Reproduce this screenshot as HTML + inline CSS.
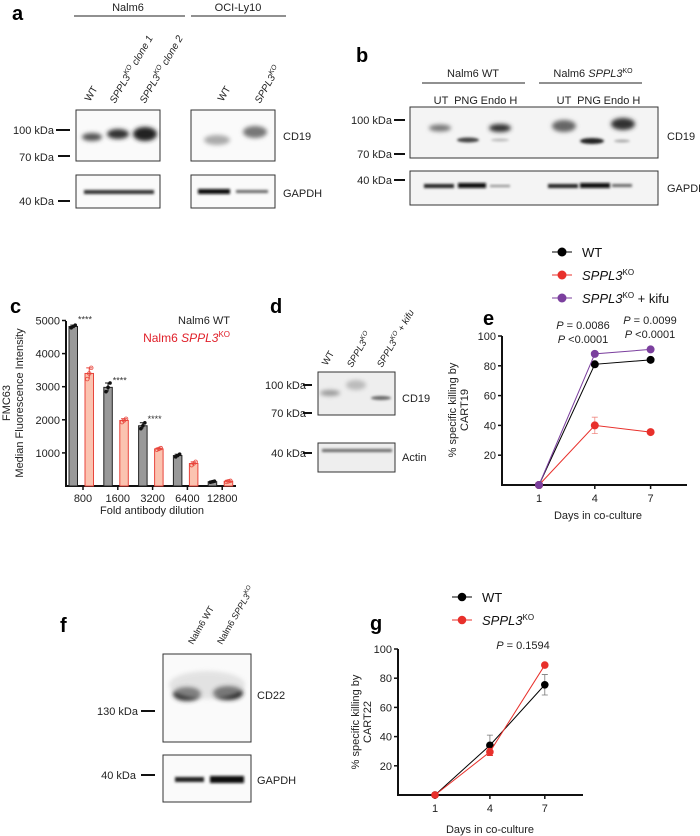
<!DOCTYPE html>
<html><head><meta charset="utf-8">
<style>
body{margin:0;background:#fff;}
svg{display:block;font-family:"Liberation Sans",sans-serif;}
.pl{font-weight:bold;font-size:20px;}
.t{font-size:11px;fill:#222;}
.tk{font-size:11px;fill:#222;}
</style></head>
<body>
<svg id="fig" width="700" height="836" viewBox="0 0 700 836">
<defs>
<filter id="bl" x="-50%" y="-100%" width="200%" height="300%"><feGaussianBlur stdDeviation="2"/></filter>
<filter id="bl2" x="-50%" y="-100%" width="200%" height="300%"><feGaussianBlur stdDeviation="1.2"/></filter>
</defs>

<!-- Panel a -->
<g>
<text class="pl" x="12" y="20">a</text>
<text class="t" x="128" y="11" text-anchor="middle" font-size="12">Nalm6</text>
<line x1="74" y1="16" x2="185" y2="16" stroke="#222"/>
<text class="t" x="238" y="11" text-anchor="middle" font-size="12">OCI-Ly10</text>
<line x1="191" y1="16" x2="286" y2="16" stroke="#222"/>
<g font-size="10" font-style="italic" fill="#222">
<text transform="translate(90,102) rotate(-60)" font-style="normal">WT</text>
<text transform="translate(115,104) rotate(-60)">SPPL3<tspan font-size="7" dy="-4">KO</tspan><tspan dy="4"> clone 1</tspan></text>
<text transform="translate(145,104) rotate(-60)">SPPL3<tspan font-size="7" dy="-4">KO</tspan><tspan dy="4"> clone 2</tspan></text>
<text transform="translate(223,102) rotate(-60)" font-style="normal">WT</text>
<text transform="translate(260,104) rotate(-60)">SPPL3<tspan font-size="7" dy="-4">KO</tspan></text>
</g>
<rect x="76" y="110" width="84" height="51" fill="#fafafa" stroke="#333"/>
<ellipse cx="92" cy="137" rx="10" ry="4" fill="#555" filter="url(#bl)"/>
<ellipse cx="118" cy="134" rx="11" ry="5" fill="#333" filter="url(#bl)"/>
<ellipse cx="145" cy="134" rx="12" ry="7" fill="#222" filter="url(#bl)"/>
<rect x="191" y="110" width="84" height="51" fill="#fafafa" stroke="#333"/>
<ellipse cx="217" cy="140" rx="13" ry="5" fill="#aaa" filter="url(#bl)"/>
<ellipse cx="255" cy="132" rx="12" ry="6" fill="#777" filter="url(#bl)"/>
<rect x="76" y="175" width="84" height="33" fill="#fafafa" stroke="#333"/>
<rect x="84" y="190" width="70" height="4" fill="#333" filter="url(#bl2)"/>
<rect x="191" y="175" width="84" height="33" fill="#fafafa" stroke="#333"/>
<rect x="198" y="189" width="32" height="5" fill="#111" filter="url(#bl2)"/>
<rect x="236" y="190" width="32" height="3" fill="#666" filter="url(#bl2)"/>
<g class="t"><text x="54" y="134" text-anchor="end">100 kDa</text><text x="54" y="161" text-anchor="end">70 kDa</text><text x="54" y="205" text-anchor="end">40 kDa</text></g>
<g stroke="#111" stroke-width="2"><line x1="56" y1="130" x2="70" y2="130"/><line x1="58" y1="156" x2="70" y2="156"/><line x1="58" y1="201" x2="70" y2="201"/></g>
<text class="t" x="283" y="140" font-size="12">CD19</text>
<text class="t" x="283" y="197" font-size="12">GAPDH</text>
</g>

<!-- Panel b -->
<g>
<text class="pl" x="356" y="62">b</text>
<text class="t" x="473" y="77" text-anchor="middle">Nalm6 WT</text>
<line x1="422" y1="83" x2="525" y2="83" stroke="#222"/>
<text class="t" x="593" y="77" text-anchor="middle">Nalm6 <tspan font-style="italic">SPPL3</tspan><tspan font-size="7" dy="-4">KO</tspan></text>
<line x1="539" y1="83" x2="642" y2="83" stroke="#222"/>
<g class="t" font-size="9" text-anchor="middle">
<text x="441" y="104">UT</text><text x="466" y="104">PNG</text><text x="499" y="104">Endo H</text>
<text x="564" y="104">UT</text><text x="589" y="104">PNG</text><text x="622" y="104">Endo H</text></g>
<rect x="410" y="107" width="248" height="51" fill="#f4f4f4" stroke="#333"/>
<ellipse cx="440" cy="128" rx="11" ry="3.5" fill="#777" filter="url(#bl)"/>
<ellipse cx="468" cy="140" rx="11" ry="2.5" fill="#444" filter="url(#bl2)"/>
<ellipse cx="500" cy="128" rx="11" ry="4" fill="#333" filter="url(#bl)"/>
<ellipse cx="500" cy="140" rx="9" ry="1.5" fill="#bbb" filter="url(#bl2)"/>
<ellipse cx="564" cy="126" rx="12" ry="6" fill="#666" filter="url(#bl)"/>
<ellipse cx="592" cy="141" rx="12" ry="3" fill="#222" filter="url(#bl2)"/>
<ellipse cx="623" cy="124" rx="12" ry="6" fill="#333" filter="url(#bl)"/>
<ellipse cx="622" cy="141" rx="8" ry="1.5" fill="#aaa" filter="url(#bl2)"/>
<rect x="410" y="171" width="248" height="34" fill="#f4f4f4" stroke="#333"/>
<rect x="424" y="184" width="30" height="4" fill="#222" filter="url(#bl2)"/>
<rect x="458" y="183" width="28" height="5" fill="#111" filter="url(#bl2)"/>
<rect x="490" y="185" width="20" height="2" fill="#888" filter="url(#bl2)"/>
<rect x="548" y="184" width="30" height="4" fill="#222" filter="url(#bl2)"/>
<rect x="580" y="183" width="30" height="5" fill="#111" filter="url(#bl2)"/>
<rect x="612" y="184" width="20" height="3" fill="#666" filter="url(#bl2)"/>
<g class="t"><text x="392" y="124" text-anchor="end">100 kDa</text><text x="392" y="158" text-anchor="end">70 kDa</text><text x="392" y="184" text-anchor="end">40 kDa</text></g>
<g stroke="#111" stroke-width="2"><line x1="394" y1="120" x2="405" y2="120"/><line x1="394" y1="154" x2="405" y2="154"/><line x1="394" y1="180" x2="405" y2="180"/></g>
<text class="t" x="667" y="140" font-size="12">CD19</text>
<text class="t" x="667" y="192" font-size="12">GAPDH</text>
</g>

<!-- Panel c -->
<g id="panel-c">
<text class="pl" x="10" y="313">c</text>
<text class="t" x="230" y="324" text-anchor="end" font-size="12">Nalm6 WT</text>
<text x="230" y="342" text-anchor="end" font-size="12" fill="#e0202a">Nalm6 <tspan font-style="italic">SPPL3</tspan><tspan font-size="8" dy="-5">KO</tspan></text>
<text class="t" transform="translate(10,403) rotate(-90)" text-anchor="middle">FMC63</text>
<text class="t" transform="translate(23,403) rotate(-90)" text-anchor="middle">Median Fluorescence Intensity</text>
<text class="t" x="152" y="514" text-anchor="middle">Fold antibody dilution</text>
</g>

<!-- Panel d -->
<g>
<text class="pl" x="270" y="313">d</text>
<g font-size="9.5" font-style="italic" fill="#222">
<text transform="translate(327,366) rotate(-60)" font-style="normal">WT</text>
<text transform="translate(352,368) rotate(-60)">SPPL3<tspan font-size="6.5" dy="-4">KO</tspan></text>
<text transform="translate(382,368) rotate(-60)">SPPL3<tspan font-size="6.5" dy="-4">KO</tspan><tspan dy="4"> + kifu</tspan></text>
</g>
<rect x="318" y="372" width="77" height="43" fill="#eee" stroke="#333"/>
<ellipse cx="330" cy="393" rx="10" ry="3" fill="#999" filter="url(#bl)"/>
<ellipse cx="356" cy="385" rx="10" ry="5" fill="#bbb" filter="url(#bl)"/>
<ellipse cx="381" cy="398" rx="10" ry="2" fill="#666" filter="url(#bl2)"/>
<rect x="318" y="443" width="77" height="29" fill="#eee" stroke="#333"/>
<rect x="322" y="449" width="70" height="3" fill="#666" filter="url(#bl2)"/>
<g class="t"><text x="306" y="389" text-anchor="end">100 kDa</text><text x="306" y="417" text-anchor="end">70 kDa</text><text x="306" y="457" text-anchor="end">40 kDa</text></g>
<g stroke="#111" stroke-width="2"><line x1="303" y1="385" x2="312" y2="385"/><line x1="303" y1="413" x2="312" y2="413"/><line x1="303" y1="453" x2="312" y2="453"/></g>
<text class="t" x="402" y="402" font-size="12">CD19</text>
<text class="t" x="402" y="461" font-size="12">Actin</text>
</g>

<!-- Panel e -->
<g id="panel-e">
<text class="pl" x="483" y="325">e</text>
<text class="t" x="583" y="329" text-anchor="middle" font-size="10"><tspan font-style="italic">P</tspan> = 0.0086</text>
<text class="t" x="583" y="343" text-anchor="middle" font-size="10"><tspan font-style="italic">P</tspan> &lt;0.0001</text>
<text class="t" x="650" y="324" text-anchor="middle" font-size="10"><tspan font-style="italic">P</tspan> = 0.0099</text>
<text class="t" x="650" y="338" text-anchor="middle" font-size="10"><tspan font-style="italic">P</tspan> &lt;0.0001</text>
<text class="t" transform="translate(456,410) rotate(-90)" text-anchor="middle" font-size="10">% specific killing by</text>
<text class="t" transform="translate(468,410) rotate(-90)" text-anchor="middle" font-size="10">CART19</text>
<text class="t" x="598" y="519" text-anchor="middle" font-size="10">Days in co-culture</text>
</g>

<!-- Panel f -->
<g>
<text class="pl" x="60" y="632">f</text>
<g font-size="9" fill="#222">
<text transform="translate(193,645) rotate(-60)">Nalm6 WT</text>
<text transform="translate(222,645) rotate(-60)">Nalm6 <tspan font-style="italic">SPPL3</tspan><tspan font-size="6" dy="-4">KO</tspan></text>
</g>
<rect x="163" y="654" width="88" height="88" fill="#fafafa" stroke="#333"/>
<ellipse cx="187" cy="694" rx="14" ry="7" fill="#333" filter="url(#bl)"/>
<ellipse cx="228" cy="693" rx="15" ry="7" fill="#222" filter="url(#bl)"/>
<ellipse cx="207" cy="685" rx="38" ry="14" fill="#ccc" opacity="0.5" filter="url(#bl)"/>
<rect x="163" y="755" width="88" height="47" fill="#fafafa" stroke="#333"/>
<rect x="175" y="777" width="29" height="5" fill="#222" filter="url(#bl2)"/>
<rect x="210" y="776" width="34" height="7" fill="#111" filter="url(#bl2)"/>
<g class="t"><text x="138" y="715" text-anchor="end">130 kDa</text><text x="136" y="779" text-anchor="end">40 kDa</text></g>
<g stroke="#111" stroke-width="2"><line x1="141" y1="711" x2="155" y2="711"/><line x1="141" y1="775" x2="155" y2="775"/></g>
<text class="t" x="257" y="699" font-size="12">CD22</text>
<text class="t" x="257" y="784" font-size="12">GAPDH</text>
</g>

<!-- Panel g -->
<g id="panel-g">
<text class="pl" x="370" y="630">g</text>
<text class="t" x="523" y="649" text-anchor="middle" font-size="10"><tspan font-style="italic">P</tspan> = 0.1594</text>
<text class="t" transform="translate(359,722) rotate(-90)" text-anchor="middle" font-size="9">% specific killing by</text>
<text class="t" transform="translate(371,722) rotate(-90)" text-anchor="middle" font-size="9">CART22</text>
<text class="t" x="490" y="833" text-anchor="middle" font-size="9">Days in co-culture</text>
</g>
</svg>
<script>
// Panel c data
const cCategories = ["800","1600","3200","6400","12800"];
const cWT = [4820, 2980, 1820, 920, 130];
const cKO = [3400, 1980, 1120, 680, 140];
const cErrWT = [40, 130, 90, 40, 15];
const cErrKO = [170, 50, 25, 50, 15];
const cStars = ["****","****","****","",""];
const cYTicks = [1000, 2000, 3000, 4000, 5000];
// Panel e data
const eDays = [1, 4, 7];
const eWT = [0, 81, 84];
const eKO = [0, 40, 35.5];
const eKifu = [0, 88, 91];
const eErrKO = [0, 5.5, 1.5];
const eErrKifu = [0, 1.5, 1.5];
const eYTicks = [20, 40, 60, 80, 100];
// Panel g data
const gDays = [1, 4, 7];
const gWT = [0, 34, 75.5];
const gKO = [0, 29.5, 89];
const gErrWT = [0, 7, 7];
const gErrKO = [0, 2.5, 1];
const gYTicks = [20, 40, 60, 80, 100];

const NS = "http://www.w3.org/2000/svg";
function mk(parent, tag, attrs, text){
  const e = document.createElementNS(NS, tag);
  for (const k in attrs) e.setAttribute(k, attrs[k]);
  if (text !== undefined) e.textContent = text;
  parent.appendChild(e);
  return e;
}

// ---- Panel c
(function(){
  const g = document.getElementById('panel-c');
  const y = v => 486 - v * 0.0331;
  const xc = i => 83 + i * 34.8;
  const bw = 8.5;
  const ax = mk(g, 'path', {d:'M66 321 V486 H236', stroke:'#111', 'stroke-width':2, fill:'none'});
  
  
  cYTicks.forEach(t => {
    mk(g, 'line', {x1:62, x2:66, y1:y(t), y2:y(t), stroke:'#111', 'stroke-width':1.5});
    const lb = mk(g, 'text', {x:60, y:y(t)+4, 'text-anchor':'end', class:'tk'}, t);
    
    
  });
  cCategories.forEach((c, i) => {
    const x = xc(i);
    mk(g, 'line', {x1:x, x2:x, y1:486, y2:490, stroke:'#111', 'stroke-width':1.5});
    const lb = mk(g, 'text', {x:x, y:502, 'text-anchor':'middle', class:'tk'}, c);
    
    
    const b1 = mk(g, 'rect', {x:x-14, y:y(cWT[i]), width:bw, height:486-y(cWT[i]), fill:'#999', stroke:'#222', 'stroke-width':1});
    
    
    const b2 = mk(g, 'rect', {x:x+2, y:y(cKO[i]), width:bw, height:486-y(cKO[i]), fill:'#fbc3b0', stroke:'#e8453c', 'stroke-width':1});
    
    
    const cx1 = x-14+bw/2, cx2 = x+2+bw/2;
    mk(g, 'path', {d:`M${cx1} ${y(cWT[i]+cErrWT[i])} V${y(cWT[i]-cErrWT[i])} M${cx1-3} ${y(cWT[i]+cErrWT[i])} h6`, stroke:'#111', 'stroke-width':1});
    mk(g, 'path', {d:`M${cx2} ${y(cKO[i]+cErrKO[i])} V${y(cKO[i]-cErrKO[i])} M${cx2-3} ${y(cKO[i]+cErrKO[i])} h6`, stroke:'#e8453c', 'stroke-width':1});
    [-2,0,2].forEach((d,k) => {
      mk(g, 'circle', {cx:cx1+d, cy:y(cWT[i]+(k-1)*cErrWT[i]), r:1.8, fill:'#111'});
      mk(g, 'circle', {cx:cx2+d, cy:y(cKO[i]+(k-1)*cErrKO[i]), r:1.8, fill:'none', stroke:'#e8453c', 'stroke-width':0.8});
    });
    if (cStars[i]) {
      const s = mk(g, 'text', {x:x+2, y:y(Math.max(cWT[i],cKO[i]))-4, 'text-anchor':'middle', 'font-size':9, fill:'#333'}, cStars[i]);
      
      
    }
  });
})();

function lineChart(id, o){
  const g = document.getElementById(id);
  const ax = mk(g, 'path', {d:`M${o.x0} ${o.yTop} V${o.y0} H${o.xEnd}`, stroke:'#111', 'stroke-width':2, fill:'none'});
  
  
  const y = v => o.y0 - v * o.ys;
  const x = d => o.x1 + (d - 1) * o.xs;
  o.yTicks.forEach(t => {
    mk(g, 'line', {x1:o.x0-4, x2:o.x0, y1:y(t), y2:y(t), stroke:'#111', 'stroke-width':1.5});
    const lb = mk(g, 'text', {x:o.x0-6, y:y(t)+4, 'text-anchor':'end', class:'tk', 'font-size':o.fs}, t);
    
    
  });
  o.days.forEach(d => {
    mk(g, 'line', {x1:x(d), x2:x(d), y1:o.y0, y2:o.y0+4, stroke:'#111', 'stroke-width':1.5});
    const lb = mk(g, 'text', {x:x(d), y:o.y0+17, 'text-anchor':'middle', class:'tk', 'font-size':o.fs}, d);
    
    
  });
  o.series.forEach(s => {
    const p = mk(g, 'polyline', {points:s.v.map((v,i)=>x(o.days[i])+','+y(v)).join(' '), fill:'none', stroke:s.c, 'stroke-width':1});
    
    
    s.v.forEach((v,i) => {
      if (s.e && s.e[i]) mk(g, 'path', {d:`M${x(o.days[i])} ${y(v+s.e[i])} V${y(v-s.e[i])} M${x(o.days[i])-3} ${y(v+s.e[i])} h6 M${x(o.days[i])-3} ${y(v-s.e[i])} h6`, stroke:s.ec||s.c, 'stroke-width':0.8});
      const c = mk(g, 'circle', {cx:x(o.days[i]), cy:y(v), r:o.r, fill:s.c});
      
      
    });
  });
  o.series.forEach((s, k) => {
    const ly = o.legY + k * o.legDy;
    mk(g, 'line', {x1:o.legX-10, x2:o.legX+10, y1:ly, y2:ly, stroke:s.c, 'stroke-width':1});
    mk(g, 'circle', {cx:o.legX, cy:ly, r:o.r+0.5, fill:s.c});
    const t = mk(g, 'text', {x:o.legX+20, y:ly+5, 'font-size':13, fill:'#111'});
    
    
    t.innerHTML = s.label;
  });
}
const koLab = '<tspan font-style="italic">SPPL3</tspan><tspan font-size="8" dy="-5">KO</tspan>';
lineChart('panel-e', {x0:502, y0:485, yTop:336, xEnd:687, x1:539, xs:18.6, ys:1.49, yTicks:eYTicks, days:eDays, fs:11, r:4,
  legX:562, legY:252, legDy:23,
  series:[
    {n:'wt', c:'#000', v:eWT, label:'WT'},
    {n:'ko', c:'#e8302b', v:eKO, e:eErrKO, ec:'#f08a84', label:koLab},
    {n:'kifu', c:'#7b3f9e', v:eKifu, e:eErrKifu, ec:'#b08acb', label:koLab+'<tspan dy="5"> + kifu</tspan>'}
  ]});
lineChart('panel-g', {x0:398, y0:795, yTop:649, xEnd:583, x1:435, xs:18.3, ys:1.46, yTicks:gYTicks, days:gDays, fs:11, r:3.8,
  legX:462, legY:597, legDy:23,
  series:[
    {n:'wt', c:'#000', v:gWT, e:gErrWT, ec:'#777', label:'WT'},
    {n:'ko', c:'#e8302b', v:gKO, e:gErrKO, label:koLab}
  ]});
</script>
</body></html>
